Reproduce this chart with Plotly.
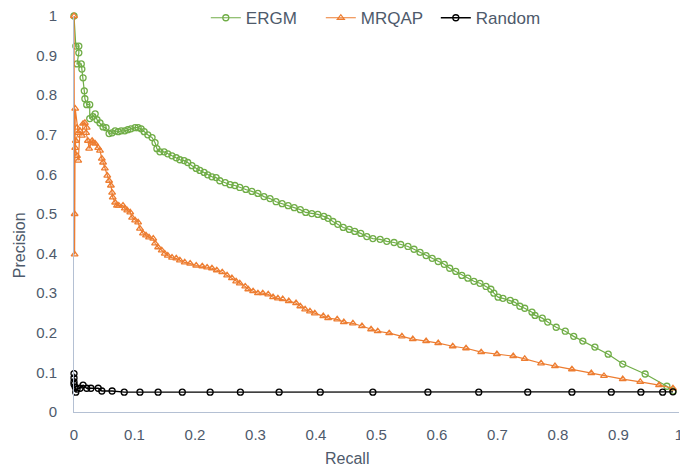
import plotly.graph_objects as go

ergm_recall = [0.000, 0.003, 0.008, 0.008, 0.005, 0.012, 0.013, 0.015, 0.017, 0.018,
               0.021, 0.026, 0.026, 0.031, 0.035, 0.038, 0.043, 0.048, 0.053, 0.058,
               0.063, 0.068, 0.073, 0.078, 0.084, 0.089, 0.094, 0.101, 0.106, 0.111,
               0.116, 0.122, 0.129, 0.134, 0.137, 0.142, 0.149, 0.155, 0.162, 0.169,
               0.175, 0.182, 0.188, 0.195, 0.202, 0.208, 0.215, 0.221, 0.228, 0.235,
               0.241, 0.250, 0.258, 0.266, 0.274, 0.284, 0.294, 0.304, 0.314, 0.324,
               0.334, 0.344, 0.354, 0.364, 0.374, 0.383, 0.393, 0.403, 0.413, 0.420,
               0.428, 0.436, 0.445, 0.455, 0.464, 0.474, 0.484, 0.494, 0.506, 0.517,
               0.529, 0.540, 0.552, 0.562, 0.572, 0.582, 0.592, 0.602, 0.612, 0.621,
               0.631, 0.641, 0.651, 0.661, 0.671, 0.681, 0.689, 0.694, 0.701, 0.709,
               0.721, 0.729, 0.737, 0.745, 0.757, 0.762, 0.774, 0.783, 0.797, 0.812,
               0.826, 0.841, 0.861, 0.883, 0.907, 0.944, 0.980, 0.990]
ergm_precision = [1.000, 0.924, 0.924, 0.907, 0.879, 0.879, 0.866, 0.844, 0.811, 0.791,
                  0.776, 0.776, 0.741, 0.746, 0.753, 0.738, 0.730, 0.720, 0.718, 0.703,
                  0.705, 0.710, 0.708, 0.710, 0.710, 0.713, 0.715, 0.718, 0.718, 0.715,
                  0.708, 0.700, 0.693, 0.680, 0.665, 0.657, 0.657, 0.652, 0.647, 0.642,
                  0.637, 0.635, 0.630, 0.622, 0.615, 0.610, 0.605, 0.599, 0.594, 0.592,
                  0.584, 0.579, 0.574, 0.572, 0.567, 0.562, 0.557, 0.552, 0.544, 0.539,
                  0.531, 0.526, 0.521, 0.516, 0.511, 0.504, 0.501, 0.499, 0.494, 0.489,
                  0.481, 0.474, 0.466, 0.461, 0.456, 0.451, 0.443, 0.438, 0.436, 0.431,
                  0.428, 0.423, 0.418, 0.411, 0.403, 0.395, 0.388, 0.380, 0.373, 0.363,
                  0.355, 0.345, 0.338, 0.330, 0.325, 0.317, 0.310, 0.300, 0.290, 0.287,
                  0.282, 0.277, 0.267, 0.262, 0.252, 0.244, 0.237, 0.227, 0.214, 0.204,
                  0.191, 0.179, 0.164, 0.146, 0.121, 0.096, 0.065, 0.053]

mrqap_recall = [0.000, 0.001, 0.001, 0.002, 0.005, 0.007, 0.003, 0.002, 0.005, 0.007,
                0.010, 0.013, 0.015, 0.018, 0.021, 0.020, 0.023, 0.025, 0.030, 0.031,
                0.035, 0.040, 0.043, 0.046, 0.048, 0.051, 0.055, 0.058, 0.061, 0.063,
                0.064, 0.068, 0.071, 0.074, 0.081, 0.084, 0.088, 0.093, 0.096, 0.101,
                0.106, 0.109, 0.114, 0.119, 0.124, 0.131, 0.134, 0.139, 0.145, 0.150,
                0.155, 0.162, 0.169, 0.175, 0.183, 0.192, 0.202, 0.212, 0.220, 0.228,
                0.236, 0.245, 0.253, 0.261, 0.268, 0.274, 0.283, 0.288, 0.296, 0.304,
                0.312, 0.321, 0.329, 0.337, 0.345, 0.355, 0.367, 0.374, 0.382, 0.390,
                0.398, 0.412, 0.420, 0.435, 0.446, 0.461, 0.476, 0.491, 0.502, 0.521,
                0.542, 0.560, 0.582, 0.602, 0.626, 0.648, 0.673, 0.699, 0.726, 0.745,
                0.772, 0.795, 0.823, 0.855, 0.876, 0.907, 0.936, 0.967, 0.990]
mrqap_precision = [1.000, 0.500, 0.398, 0.766, 0.718, 0.705, 0.685, 0.667, 0.647, 0.635,
                   0.710, 0.698, 0.728, 0.730, 0.718, 0.705, 0.685, 0.665, 0.685, 0.680,
                   0.678, 0.667, 0.660, 0.640, 0.630, 0.615, 0.597, 0.584, 0.572, 0.554,
                   0.542, 0.529, 0.521, 0.521, 0.521, 0.514, 0.509, 0.504, 0.491, 0.484,
                   0.479, 0.463, 0.451, 0.446, 0.441, 0.438, 0.426, 0.416, 0.408, 0.400,
                   0.395, 0.390, 0.388, 0.383, 0.378, 0.375, 0.370, 0.368, 0.365, 0.363,
                   0.358, 0.353, 0.345, 0.338, 0.330, 0.325, 0.317, 0.310, 0.305, 0.300,
                   0.300, 0.297, 0.290, 0.287, 0.285, 0.280, 0.275, 0.267, 0.259, 0.254,
                   0.249, 0.242, 0.237, 0.234, 0.227, 0.224, 0.217, 0.209, 0.204, 0.199,
                   0.191, 0.184, 0.179, 0.174, 0.166, 0.161, 0.151, 0.146, 0.141, 0.134,
                   0.123, 0.116, 0.108, 0.098, 0.091, 0.083, 0.076, 0.068, 0.060]

random_recall = [0.000, 0.000, 0.000, 0.000, 0.002, 0.003, 0.005, 0.010, 0.015, 0.021,
                 0.028, 0.040, 0.046, 0.063, 0.083, 0.109, 0.139, 0.179, 0.225, 0.275,
                 0.339, 0.407, 0.494, 0.585, 0.669, 0.750, 0.823, 0.888, 0.937, 0.973,
                 0.990]
random_precision = [0.097, 0.086, 0.076, 0.070, 0.063, 0.050, 0.058, 0.060, 0.068, 0.060,
                    0.060, 0.060, 0.053, 0.053, 0.050, 0.050, 0.050, 0.050, 0.050, 0.050,
                    0.050, 0.050, 0.050, 0.050, 0.050, 0.050, 0.050, 0.050, 0.050, 0.050,
                    0.051]

tick_vals = [0, 0.1, 0.2, 0.3, 0.4, 0.5, 0.6, 0.7, 0.8, 0.9, 1]
tick_text = ["0", "0.1", "0.2", "0.3", "0.4", "0.5", "0.6", "0.7", "0.8", "0.9", "1"]

FONT = "Liberation Sans"
TXT = "#4E5A6B"
AXIS = "#B4C0D3"

fig = go.Figure()
fig.add_trace(go.Scatter(
    x=ergm_recall, y=ergm_precision, name="ERGM", mode="lines+markers",
    line=dict(color="#70AD47", width=1.2),
    marker=dict(symbol="circle-open", size=6, color="#70AD47", line=dict(width=1.3)),
    cliponaxis=False))
fig.add_trace(go.Scatter(
    x=mrqap_recall, y=mrqap_precision, name="MRQAP", mode="lines+markers",
    line=dict(color="#ED7D31", width=1.2),
    marker=dict(symbol="triangle-up-open", size=6, color="#ED7D31", line=dict(width=1.3)),
    cliponaxis=False))
fig.add_trace(go.Scatter(
    x=random_recall, y=random_precision, name="Random", mode="lines+markers",
    line=dict(color="#000000", width=1.3),
    marker=dict(symbol="circle-open", size=6, color="#000000", line=dict(width=1.3)),
    cliponaxis=False))

fig.update_layout(
    template="none",
    width=680, height=467,
    margin=dict(l=74, r=1, t=15, b=55),
    paper_bgcolor="white", plot_bgcolor="white",
    font=dict(family=FONT, color=TXT, size=15),
    showlegend=True,
    legend=dict(orientation="h", x=0.503, xanchor="center", y=0.992, yanchor="middle",
                bgcolor="rgba(0,0,0,0)", font=dict(size=17, color=TXT),
                itemwidth=30, traceorder="normal",
                entrywidth=70, entrywidthmode="pixels"),
    xaxis=dict(range=[0, 1], tickvals=tick_vals, ticktext=tick_text,
               showgrid=False, zeroline=False, showline=True, linecolor=AXIS, linewidth=1,
               ticks="", automargin=False, ticklabelstandoff=9, ticklabeloverflow="allow",
               tickfont=dict(size=15, color=TXT)),
    yaxis=dict(range=[0, 1], tickvals=tick_vals, ticktext=tick_text,
               showgrid=False, zeroline=False, showline=True, linecolor=AXIS, linewidth=1,
               ticks="", automargin=False, ticklabelstandoff=13, ticklabeloverflow="allow",
               tickfont=dict(size=15, color=TXT)),
    annotations=[
        dict(text="Recall", xref="paper", yref="paper", x=0.451, y=-0.118,
             xanchor="center", yanchor="middle", showarrow=False,
             font=dict(size=16, color=TXT, family=FONT)),
        dict(text="Precision", xref="paper", yref="paper", x=-0.091, y=0.421,
             xanchor="center", yanchor="middle", textangle=-90, showarrow=False,
             font=dict(size=16, color=TXT, family=FONT)),
    ],
)

fig.write_html("out.html", config={"displayModeBar": False},
               post_script="document.body.style.margin='0';")
